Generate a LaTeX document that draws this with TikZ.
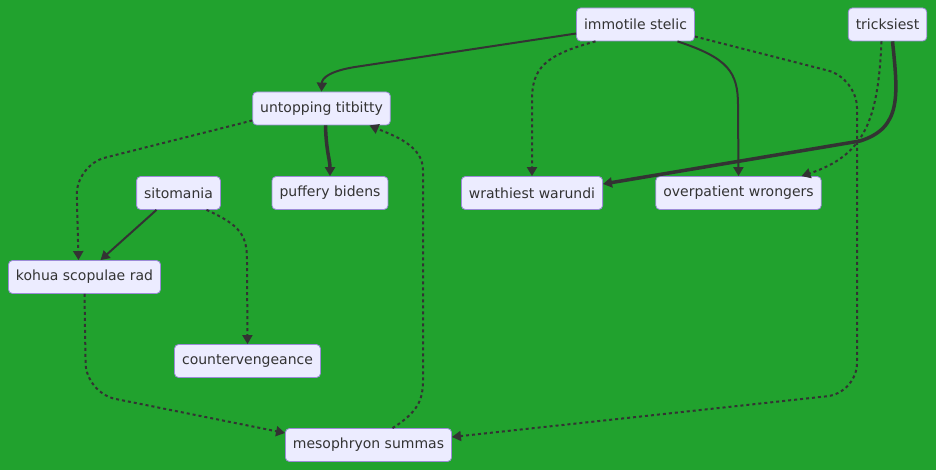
\documentclass[tikz,border=0pt]{standalone}
\usepackage{fontspec}
\setmainfont{DejaVu Sans}
\usepackage{xcolor}
\usepackage{tikz}
\usetikzlibrary{arrows.meta}
\definecolor{bggreen}{RGB}{33,162,46}
\definecolor{nodefill}{HTML}{ECECFF}
\definecolor{nodeline}{HTML}{9C8BD8}
\definecolor{ink}{HTML}{333333}

\begin{document}
\begin{tikzpicture}[x=1pt,y=-1pt,
            box/.style = {rectangle, rounded corners=4pt,
                        draw=nodeline, line width=0.8pt,
                        fill=nodefill, text=ink,
                        font=\fontsize{14}{17}\selectfont,
                        minimum height=33pt, inner xsep=7.5pt},
            link/.style = {draw=ink, line width=2pt,
                        -{Triangle[length=9pt,width=10pt]}},
            heavy/.style = {link, line width=3.5pt},
            dotline/.style = {link, dash pattern=on 3pt off 3pt}]
            \fill[bggreen] (0,0) rectangle (936,470);
            \useasboundingbox (0,0) rectangle (936,470);
            % Top row
            \node[box] (imm) at (635.5,24.5) {immotile stelic};
            \node[box] (tri) at (887.5,24.5) {tricksiest};
            \node[box] (unt) at (321.5,108.5) {untopping titbitty};
            % Middle row
            \node[box] (sit) at (178.5,193) {sitomania};
            \node[box] (puf) at (330,193) {puffery bidens};
            \node[box] (wra) at (532,193) {wrathiest warundi};
            \node[box] (ovr) at (738.5,193) {overpatient wrongers};
            % Lower rows
            \node[box] (koh) at (84.5,277) {kohua scopulae rad};
            \node[box] (cnt) at (247.5,361) {countervengeance};
            \node[box] (mes) at (368.5,445) {mesophryon summas};
            % Edges from immotile stelic
            \draw[link] ([yshift=-9pt]imm.west) -- (355,67)
                .. controls (330,71) and (322,78) .. (unt.north);
            \draw[dotline] ([xshift=-40pt]imm.south)
                .. controls (545,55) and (532,68) .. (532,100) -- (wra.north);
            \draw[link] ([xshift=42pt]imm.south)
                .. controls (728,58) and (738,72) .. (738,105) -- (ovr.north);
            \draw[dotline, rounded corners=30pt] ([yshift=-12pt]imm.east)
                -- (857,78) -- (857,393) -- ([yshift=8pt]mes.east);
            % Edges from tricksiest
            \draw[heavy] ([xshift=5pt]tri.south)
                .. controls (898,95) and (902,128) .. (860,141) -- ([yshift=9pt]wra.east);
            \draw[dotline] ([xshift=-6pt]tri.south)
                .. controls (878,120) and (865,155) .. ([xshift=63pt]ovr.north);
            % Edges from untopping titbitty
            \draw[heavy] ([xshift=4pt]unt.south)
                .. controls (326,150) and (330,160) .. (puf.north);
            \draw[dotline, rounded corners=30pt] ([yshift=-12pt]unt.west)
                -- (76,165) -- ([xshift=-6pt]koh.north);
            % Edges from sitomania
            \draw[link] ([xshift=-22pt]sit.south) -- ([xshift=16pt]koh.north);
            \draw[dotline] ([xshift=28pt]sit.south)
                .. controls (240,225) and (247,235) .. (247,260) -- (cnt.north);
            % Edges to and from mesophryon summas
            \draw[dotline, rounded corners=30pt] (koh.south)
                -- (86,393) -- ([yshift=12pt]mes.west);
            \draw[dotline] ([xshift=24pt]mes.north)
                .. controls (418,412) and (423,400) .. (423,380) -- (423,170)
                .. controls (423,145) and (392,135) .. ([xshift=48pt]unt.south);
        \end{tikzpicture}
\end{document}
